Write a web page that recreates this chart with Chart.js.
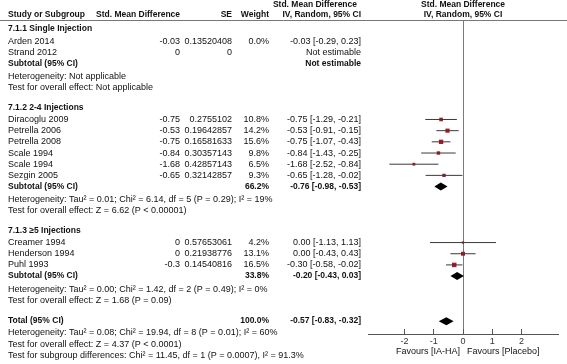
<!DOCTYPE html>
<html>
<head>
<meta charset="utf-8">
<script src="https://cdn.jsdelivr.net/npm/chart.js@4.4.0/dist/chart.umd.min.js"></script>
<style>
html,body{margin:0;padding:0;background:#fff}
</style>
</head>
<body>
<canvas id="forest" width="567" height="364"></canvas>
<script>
// table data
const groupNames=['7.1.1 Single Injection','7.1.2 2-4 Injections','7.1.3 \u22655 Injections'];
const studyNames=['Arden 2014','Strand 2012','Diracoglu 2009','Petrella 2006','Petrella 2008','Scale 1994','Scale 1994','Sezgin 2005','Creamer 1994','Henderson 1994','Puhl 1993'];
const studyGroup=[0,0,1,1,1,1,1,1,2,2,2];
const smd=[-0.03,0,-0.75,-0.53,-0.75,-0.84,-1.68,-0.65,0,0,-0.3];
const se=['0.13520408','0','0.2755102','0.19642857','0.16581633','0.30357143','0.42857143','0.32142857','0.57653061','0.21938776','0.14540816'];
const weight=[0.0,null,10.8,14.2,15.6,9.8,6.5,9.3,4.2,13.1,16.5];
const ciLow=[-0.29,null,-1.29,-0.91,-1.07,-1.43,-2.52,-1.28,-1.13,-0.43,-0.58];
const ciHigh=[0.23,null,-0.21,-0.15,-0.43,-0.25,-0.84,-0.02,1.13,0.43,-0.02];

const subWeight=[null,66.2,33.8];
const subEst=[null,-0.76,-0.20];
const subLow=[null,-0.98,-0.43];
const subHigh=[null,-0.53,0.03];
const hetText=['Heterogeneity: Not applicable',
  'Heterogeneity: Tau\u00b2 = 0.01; Chi\u00b2 = 6.14, df = 5 (P = 0.29); I\u00b2 = 19%',
  'Heterogeneity: Tau\u00b2 = 0.00; Chi\u00b2 = 1.42, df = 2 (P = 0.49); I\u00b2 = 0%'];
const effText=['Test for overall effect: Not applicable',
  'Test for overall effect: Z = 6.62 (P < 0.00001)',
  'Test for overall effect: Z = 1.68 (P = 0.09)'];

const totalWeight=100.0, totalEst=-0.57, totalLow=-0.83, totalHigh=-0.32;
const totalNotes=['Heterogeneity: Tau\u00b2 = 0.08; Chi\u00b2 = 19.94, df = 8 (P = 0.01); I\u00b2 = 60%',
  'Test for overall effect: Z = 4.37 (P < 0.0001)',
  'Test for subgroup differences: Chi\u00b2 = 11.45, df = 1 (P = 0.0007), I\u00b2 = 91.3%'];

const tickVals=[-2,-1,0,1,2];
const xMin=-3.25, xMax=3.25;

// row layout (in row units)
const headY=[], rowY=[], subY=[], hetY=[], effY=[];
let cur=0.72;
groupNames.forEach((g,gi)=>{
  headY[gi]=cur; cur+=1.08;
  studyGroup.forEach((sg,i)=>{ if(sg===gi){ rowY[i]=cur; cur+=1; } });
  subY[gi]=cur; cur+=1.18;
  hetY[gi]=cur; cur+=1;
  effY[gi]=cur; cur+=1.75;
});
const totalY=cur+0.1;

const FONT='"Liberation Sans", Arial, sans-serif';
const fmt=v=>v.toFixed(2);
const ciStr=(e,l,h)=>fmt(e)+' ['+fmt(l)+', '+fmt(h)+']';

// CI whiskers and squares for studies with weight
const ciData=[], ptData=[], ptSize=[];
studyNames.forEach((n,i)=>{
  if(!weight[i]) return;
  ciData.push({x:ciLow[i],y:rowY[i]},{x:ciHigh[i],y:rowY[i]},{x:ciHigh[i],y:null});
  ptData.push({x:smd[i],y:rowY[i]});
  ptSize.push(Math.max(1.4,1.1*Math.sqrt(weight[i])/1.414));
});

const tablePlugin={
  id:'table',
  afterDraw(chart){
    const {ctx,chartArea:a,scales:{x,y}}=chart;
    const Y=v=>y.getPixelForValue(v);
    const txt=(s,px,py,align,bold)=>{
      ctx.font=bold?'bold 8.5px '+FONT:'9px '+FONT;
      ctx.textAlign=align; ctx.fillText(s,px,py);
    };
    ctx.save();
    ctx.fillStyle='#111'; ctx.textBaseline='middle';
    // header
    ctx.strokeStyle='#777'; ctx.lineWidth=1;
    ctx.beginPath(); ctx.moveTo(0,a.top-0.5); ctx.lineTo(chart.width,a.top-0.5); ctx.stroke();
    txt('Study or Subgroup',8,a.top-6,'left',true);
    txt('Std. Mean Difference',96,a.top-6,'left',true);
    txt('SE',232,a.top-6,'right',true);
    txt('Weight',269,a.top-6,'right',true);
    txt('Std. Mean Difference',357,a.top-16,'right',true);
    txt('IV, Random, 95% CI',361,a.top-6,'right',true);
    const x0=x.getPixelForValue(0);
    txt('Std. Mean Difference',x0,a.top-16,'center',true);
    txt('IV, Random, 95% CI',x0,a.top-6,'center',true);
    // groups
    groupNames.forEach((g,gi)=>{
      txt(g,8,Y(headY[gi]),'left',true);
      studyNames.forEach((n,i)=>{
        if(studyGroup[i]!==gi) return;
        const py=Y(rowY[i]);
        txt(n,8,py,'left');
        txt(String(smd[i]),180,py,'right');
        txt(se[i],232,py,'right');
        if(weight[i]!==null) txt(weight[i].toFixed(1)+'%',269,py,'right');
        txt(ciLow[i]===null?'Not estimable':ciStr(smd[i],ciLow[i],ciHigh[i]),361,py,'right');
      });
      const sy=Y(subY[gi]);
      txt('Subtotal (95% CI)',8,sy,'left',true);
      if(subWeight[gi]!==null) txt(subWeight[gi].toFixed(1)+'%',269,sy,'right',true);
      txt(subEst[gi]===null?'Not estimable':ciStr(subEst[gi],subLow[gi],subHigh[gi]),361,sy,'right',true);
      txt(hetText[gi],8,Y(hetY[gi]),'left');
      txt(effText[gi],8,Y(effY[gi]),'left');
    });
    const ty=Y(totalY);
    txt('Total (95% CI)',8,ty,'left',true);
    txt(totalWeight.toFixed(1)+'%',269,ty,'right',true);
    txt(ciStr(totalEst,totalLow,totalHigh),361,ty,'right',true);
    totalNotes.forEach((s,k)=>txt(s,8,Y(totalY+1.05+k),'left'));
    // favours
    txt('Favours [IA-HA]',x0-3,a.bottom+18,'right');
    txt('Favours [Placebo]',x0+4,a.bottom+18,'left');
    // diamonds
    ctx.fillStyle='#000';
    const dia=(e,l,h,yy)=>{
      const py=Y(yy);
      ctx.beginPath();
      ctx.moveTo(x.getPixelForValue(l),py);
      ctx.lineTo(x.getPixelForValue(e),py-4);
      ctx.lineTo(x.getPixelForValue(h),py);
      ctx.lineTo(x.getPixelForValue(e),py+4);
      ctx.closePath(); ctx.fill();
    };
    subEst.forEach((e,gi)=>{ if(e!==null) dia(e,subLow[gi],subHigh[gi],subY[gi]); });
    dia(totalEst,totalLow,totalHigh,totalY);
    ctx.restore();
  }
};

new Chart(document.getElementById('forest'),{
  type:'scatter',
  data:{datasets:[
    {data:ciData,showLine:true,spanGaps:false,borderColor:'#3a3a3a',borderWidth:1,pointRadius:0},
    {data:ptData,pointStyle:'rect',pointRadius:ptSize,backgroundColor:'#b01822',borderWidth:0}
  ]},
  options:{
    responsive:false,animation:false,
    layout:{padding:{left:368,right:9,top:21,bottom:0}},
    plugins:{legend:{display:false},tooltip:{enabled:false}},
    scales:{
      x:{type:'linear',min:xMin,max:xMax,
        afterBuildTicks:s=>{s.ticks=tickVals.map(v=>({value:v}));},
        afterFit:s=>{s.height=30;},
        grid:{color:c=>(c.tick&&c.tick.value===0)?'#7a7a7a':'rgba(0,0,0,0)',tickColor:'#555',tickLength:-5},
        border:{color:'#555',width:1},
        ticks:{font:{family:FONT,size:9},color:'#333',padding:7}},
      y:{type:'linear',min:0,max:28,reverse:true,display:false}
    }
  },
  plugins:[tablePlugin]
});
</script>
</body>
</html>
